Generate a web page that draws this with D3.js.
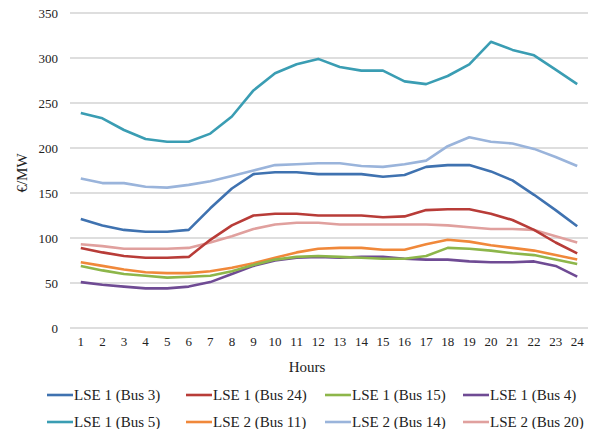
<!DOCTYPE html>
<html>
<head>
<meta charset="utf-8">
<script src="https://cdn.jsdelivr.net/npm/d3@7"></script>
<style>
  body { margin: 0; background: #fff; }
  svg text { font-family: "Liberation Serif", "Times New Roman", "DejaVu Serif", serif !important; }
</style>
</head>
<body>
<svg id="chart" width="599" height="429"></svg>
<script>
const hours = d3.range(1, 25).map(String);
const yTicks = [0, 50, 100, 150, 200, 250, 300, 350];
const seriesNames = ["LSE 1 (Bus 3)", "LSE 1 (Bus 24)", "LSE 1 (Bus 15)", "LSE 1 (Bus 4)",
                     "LSE 1 (Bus 5)", "LSE 2 (Bus 11)", "LSE 2 (Bus 14)", "LSE 2 (Bus 20)"];
const seriesColors = ["#3F72B0", "#B83C38", "#8DB64A", "#6F4B94",
                      "#3A9DB3", "#F0883A", "#9AB4DB", "#E0A09E"];
const bus3  = [121,114,109,107,107,109,133,155,171,173,173,171,171,171,168,170,179,181,181,174,164,148,131,113];
const bus24 = [89,84,80,78,78,79,98,114,125,127,127,125,125,125,123,124,131,132,132,127,120,109,95,83];
const bus15 = [69,64,60,58,56,57,58,63,70,76,79,80,79,78,77,77,80,89,88,86,83,81,76,71];
const bus4  = [51,48,46,44,44,46,51,60,69,75,78,79,78,79,79,77,76,76,74,73,73,74,69,57];
const bus5  = [239,233,220,210,207,207,216,235,264,283,293,299,290,286,286,274,271,280,293,318,309,303,287,271];
const bus11 = [73,69,65,62,61,61,63,67,72,78,84,88,89,89,87,87,93,98,96,92,89,86,81,76];
const bus14 = [166,161,161,157,156,159,163,169,175,181,182,183,183,180,179,182,186,202,212,207,205,199,190,180];
const bus20 = [93,91,88,88,88,89,95,102,110,115,117,117,115,115,115,115,115,114,112,110,110,109,102,95];
const seriesValues = [bus3, bus24, bus15, bus4, bus5, bus11, bus14, bus20];
// drawing order (back to front)
const drawOrder = [7, 6, 5, 4, 3, 2, 1, 0];

const svg = d3.select("#chart");
const margin = { left: 70, right: 11, top: 13, bottom: 101 };
const W = 599, H = 429;
const x = d3.scaleBand().domain(hours).range([margin.left, W - margin.right]);
const y = d3.scaleLinear().domain([0, 350]).range([H - margin.bottom, margin.top]);

// gridlines
svg.append("g").selectAll("line").data(yTicks).join("line")
  .attr("x1", margin.left).attr("x2", W - margin.right)
  .attr("y1", d => y(d)).attr("y2", d => y(d))
  .attr("stroke", "#BDBDBD").attr("stroke-width", 1.2);

// y axis
const yAxis = svg.append("g").attr("transform", `translate(${margin.left},0)`)
  .call(d3.axisLeft(y).tickValues(yTicks).tickSize(0).tickPadding(12));
yAxis.select(".domain").remove();
yAxis.selectAll("text").attr("font-size", 13).attr("fill", "#222");

// x axis
const xAxis = svg.append("g").attr("transform", `translate(0,${y(0)})`)
  .call(d3.axisBottom(x).tickSize(0).tickPadding(9));
xAxis.select(".domain").remove();
xAxis.selectAll("text").attr("font-size", 13).attr("fill", "#222");

// axis titles
svg.append("text").attr("x", 307).attr("y", 372).attr("text-anchor", "middle")
  .attr("font-size", 15).attr("fill", "#222").text("Hours");
svg.append("text").attr("transform", "translate(27,173) rotate(-90)")
  .attr("text-anchor", "middle").attr("font-size", 15).attr("fill", "#222").text("€/MW");

// lines
const line = d3.line()
  .x((d, i) => x(hours[i]) + x.bandwidth() / 2)
  .y(d => y(d));
svg.append("g").selectAll("path").data(drawOrder).join("path")
  .attr("d", k => line(seriesValues[k]))
  .attr("fill", "none")
  .attr("stroke", k => seriesColors[k])
  .attr("stroke-width", 2.6)
  .attr("stroke-linejoin", "round");

// legend
const colX = [47, 186, 325, 463];
const rowY = [395, 422];
const leg = svg.append("g").selectAll("g").data(seriesNames).join("g")
  .attr("transform", (d, i) => `translate(${colX[i % 4]},${rowY[Math.floor(i / 4)]})`);
leg.append("line").attr("x1", 0).attr("x2", 26).attr("y1", 0).attr("y2", 0)
  .attr("stroke", (d, i) => seriesColors[i]).attr("stroke-width", 2.6);
leg.append("text").attr("x", 27).attr("y", 0).attr("dy", "0.35em")
  .attr("font-size", 15).attr("fill", "#222").text(d => d);
</script>
</body>
</html>
